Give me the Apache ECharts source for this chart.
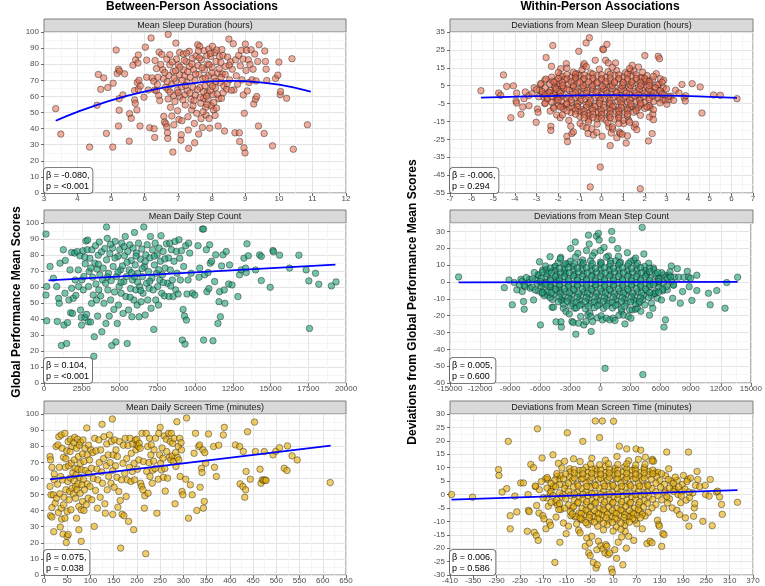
<!DOCTYPE html>
<html>
<head>
<meta charset="utf-8">
<script src="https://cdn.jsdelivr.net/npm/echarts@6/dist/echarts.min.js"></script>
<style>
html, body { margin: 0; padding: 0; background: #fff; }
#chart { width: 765px; height: 586px; }
</style>
</head>
<body>
<div id="chart"></div>
<script>
// ---- data ----

// between-person: mean sleep duration (hours) vs global performance
const sleepMeanPts = [
  [3.35,52.4],[3.5,36.6],[4.36,28.5],[4.62,73.6],[4.69,64.4],[4.78,71.5],[4.58,54.5],[4.86,37],[4.9,65.5],[5.06,68.2],[5.05,28.5],[5.15,88.8],[5.18,74.2],[5.22,76.9],[5.25,75.7],[5.22,41.6],[5.24,58.6],[5.24,51.4],[5.35,60.9],[5.4,74],[5.54,32.2],[5.55,49.3],[5.6,46.4],[5.65,79.4],[5.7,63.6],[5.7,57.8],[5.72,55.7],[5.73,82.7],[5.78,68.6],[5.81,85.7],[5.8,80.7],[5.83,70],[5.81,64.4],[5.77,51.6],[5.86,41.6],[5.87,66.5],[5.98,59.5],[6.02,90.6],[6.06,82.5],[6.06,71.9],[6.11,64],[6.15,40.5],[6.19,96.3],[6.22,71.5],[6.27,69.4],[6.28,39.9],[6.3,34.5],[6.3,64],[6.31,82.3],[6.35,77.3],[6.35,63.6],[6.38,67.4],[6.4,71.9],[6.42,60.5],[6.43,87.5],[6.45,57.4],[6.48,79.8],[6.51,86.1],[6.54,76.5],[6.56,70.9],[6.57,47.6],[6.59,44.1],[6.62,65.7],[6.63,43],[6.66,83.2],[6.66,41],[6.68,37.4],[6.69,33.9],[6.7,98.5],[6.7,64],[6.7,58.4],[6.72,73],[6.75,79.6],[6.75,85.9],[6.77,53.2],[6.8,67.6],[6.81,47.8],[6.84,25.4],[6.85,75.5],[6.86,60.5],[6.87,42.4],[6.9,56.8],[6.93,93.1],[6.93,69.4],[6.95,83.2],[6.98,64],[6.98,51.1],[7.0,79.6],[7.02,45.7],[7.04,87.3],[7.04,73.4],[7.05,59.9],[7.08,32.8],[7.09,36.2],[7.1,65.9],[7.11,44.9],[7.15,86.3],[7.16,76.5],[7.19,72.8],[7.2,61.1],[7.21,54.7],[7.24,81.5],[7.26,68.8],[7.27,63.6],[7.29,47.4],[7.3,39.1],[7.31,27.7],[7.33,88],[7.34,78.6],[7.36,71.9],[7.38,58.2],[7.4,51.6],[7.42,83.6],[7.44,65.7],[7.46,76.5],[7.48,43.2],[7.49,31.2],[7.5,69.8],[7.51,60.9],[7.53,85.2],[7.55,49.5],[7.58,92.1],[7.59,79.2],[7.61,36.6],[7.62,73.6],[7.64,91.1],[7.65,65.5],[7.67,55.7],[7.68,46.2],[7.69,82.7],[7.72,40.7],[7.73,70.9],[7.75,58.8],[7.77,88.4],[7.78,76.5],[7.8,66.5],[7.82,53.2],[7.83,48.4],[7.85,85.2],[7.87,62.4],[7.88,80.2],[7.89,57.8],[7.9,72.8],[7.91,89.4],[7.92,46.2],[7.94,40.3],[7.95,68.2],[7.97,84.8],[7.99,54],[8.01,78],[8.02,91.1],[8.04,61.1],[8.05,51.6],[8.07,71.9],[8.09,87.3],[8.1,48.2],[8.11,65.3],[8.13,81.7],[8.15,88.8],[8.17,74.4],[8.19,41.6],[8.21,58.6],[8.23,84.8],[8.25,68.6],[8.27,81.1],[8.29,58.8],[8.31,74],[8.33,85.4],[8.36,66.5],[8.38,38.5],[8.41,78.6],[8.44,64.4],[8.47,84.4],[8.51,95.6],[8.53,70.3],[8.56,81.5],[8.61,76.9],[8.64,92.7],[8.66,64],[8.69,37.4],[8.71,82.7],[8.73,72.8],[8.77,67.6],[8.8,85.4],[8.82,37.4],[8.83,32],[8.85,79],[8.88,88.6],[8.9,70.3],[8.93,83.2],[8.94,60.9],[8.96,28.1],[8.97,49.5],[8.99,24.9],[9.0,92.5],[9.02,76.1],[9.04,88.6],[9.06,63.4],[9.09,82.7],[9.11,68.6],[9.14,79.8],[9.17,89],[9.2,70.3],[9.23,76.9],[9.25,55.3],[9.28,86.3],[9.3,58.2],[9.32,69.6],[9.34,59.9],[9.37,81.7],[9.39,41.6],[9.41,92.1],[9.56,37],[9.58,88.2],[9.6,81.7],[9.62,76.9],[9.64,69.9],[9.81,29.3],[9.9,71.1],[9.97,73.2],[10.0,81.3],[10.04,61.1],[10.05,63],[10.23,58.8],[10.39,83.4],[10.43,27.2],[10.85,42.4],
  [7.05,78.2],[7.12,70.1],[7.18,82.4],[7.22,66.8],[7.28,75.3],[7.35,62.1],[7.41,80.2],[7.47,57.3],[7.52,73.9],[7.57,64.2],[7.63,83.9],[7.66,59.4],[7.71,77.8],[7.76,62.9],[7.81,71.4],[7.86,55.1],[7.92,79.6],[7.96,63.7],[8.0,74.6],[8.06,56.2],[8.12,69.3],[8.16,61.4],[8.22,77.2],[8.28,71.8],[8.34,62.2],[8.4,73.7],[8.46,67.9],[8.52,79.4],[8.58,63.8],[7.0,62.3],[6.92,75.9],[6.88,71.2],[6.82,81.4],[6.76,62.7],[6.67,69.1],[6.6,74.8],[7.14,57.8],[7.44,54.2],[7.74,50.5],[7.84,60.2],[8.02,66.3],[8.14,52.7],[7.25,86.9],[7.6,88.2],[7.96,86.7],[8.3,89.1]
];
const sleepMeanFitX = [3.35, 4, 5, 6, 7, 8, 8.6, 9, 10, 10.95];
const sleepMeanFitY = [44.9, 50.4, 57.6, 63.0, 67.0, 69.3, 69.7, 69.5, 67.3, 63.0];

// between-person: mean daily step count
const stepMeanPts = [
  [130,93.1],[180,60.3],[180,38.9],[130,55],[400,72.8],[620,65.5],[840,60.3],[880,38.5],[970,52.9],[1010,49.8],[1060,74.9],[1150,23.4],[1280,83.3],[1320,36.2],[1390,56.1],[1410,76.6],[1500,24.7],[1560,37.7],[1650,51.9],[1720,70.7],[1760,43.9],[1830,81.6],[1830,59.2],[1890,43.5],[1940,52.9],[2030,81.2],[2070,64.4],[2110,54.8],[2200,82.2],[2270,70.7],[2290,60.3],[2380,79.5],[2420,45.6],[2470,41],[2490,36.2],[2510,64.4],[2580,82.6],[2600,58.2],[2640,66.5],[2710,41],[2730,74.5],[2780,88.7],[2820,42.9],[2860,83.3],[2890,89.3],[2930,38.3],[2950,60.3],[2990,69.7],[3040,78],[3080,38.1],[3150,49.8],[3170,83.3],[3220,66.1],[3260,55],[3300,16.7],[3330,28.9],[3370,74.9],[3410,85.8],[3440,61.9],[3480,51.9],[3520,71.2],[3550,41.8],[3590,79.9],[3630,58.2],[3660,88.1],[3700,67.6],[3750,54.4],[3810,82],[3830,32],[3880,64.4],[3920,71.8],[3970,49.8],[4030,84.1],[4080,62.3],[4100,37.2],[4140,97.5],[4140,77],[4190,90.4],[4230,58.2],[4270,68.6],[4320,41.8],[4360,80.8],[4410,51.9],[4450,64],[4490,23.4],[4540,84.3],[4580,72.8],[4630,46],[4670,56.9],[4710,88.5],[4760,25.7],[4800,66.5],[4850,37.2],[4890,79.1],[4930,48.7],[4980,60.3],[5020,83.3],[5070,70.7],[5110,56.1],[5150,87.4],[5200,73.2],[5240,43.5],[5290,63.4],[5330,79.5],[5380,91.6],[5420,54],[5460,66.5],[5510,24.7],[5550,82.2],[5600,45.6],[5640,70.7],[5680,86.4],[5730,59],[5770,76.6],[5820,41.4],[5860,64.4],[5900,84.3],[5950,51.9],[5990,94.1],[6040,73.8],[6080,58.2],[6120,81.2],[6170,48.7],[6210,68.6],[6260,87.4],[6300,41.4],[6340,60.3],[6390,77.4],[6430,50.8],[6480,83.7],[6520,66.5],[6560,56.1],[6610,97.5],[6650,72.8],[6700,42.5],[6740,80.1],[6790,62.3],[6830,86.4],[6870,51.9],[6920,69.7],[6960,59.2],[7010,78.2],[7050,91.6],[7090,46.7],[7140,65.5],[7180,83.3],[7230,58.2],[7270,33.5],[7310,73.8],[7360,87.4],[7400,51.9],[7450,68.6],[7490,80.1],[7530,60.3],[7580,48.7],[7620,84.3],[7670,64.4],[7710,76.1],[7750,92.1],[7800,56.1],[7840,67.6],[7890,82.2],[7970,54.4],[8020,71.8],[8110,87],[8170,62.3],[8240,78.2],[8280,54],[8330,87.4],[8370,70.7],[8440,83.3],[8500,64.4],[8550,54],[8610,76.1],[8680,88.5],[8720,58.2],[8770,82.2],[8810,68.6],[8880,55.6],[8940,89.5],[8990,78],[9030,64.4],[9100,82.6],[9160,26.8],[9210,46],[9250,72.8],[9300,41.8],[9340,24.3],[9380,85.8],[9430,39.3],[9470,55.6],[9540,64.4],[9580,87.4],[9650,81.2],[9740,68.6],[9830,56.1],[9980,55],[10200,85.8],[10270,66.1],[10310,71.8],[10490,96.2],[10570,96.2],[10570,26.8],[10640,67.6],[10750,83.3],[10790,57.1],[10860,69],[10920,59],[10970,86.4],[11010,74.9],[11100,76.1],[11190,26.4],[11300,63.4],[11370,80.1],[11520,37.2],[11590,50.8],[11630,57.1],[11680,41.4],[11760,73.2],[11850,80.1],[11940,58.2],[11980,49.8],[12070,82.2],[12230,61.9],[12290,73.8],[12450,61.3],[12840,54],[12950,67.6],[13060,70.7],[13240,78],[13350,71.8],[13390,69],[13440,87],[13530,79.5],[14010,70.7],[14280,80.1],[14390,79.1],[14390,64],[14980,59.8],[15160,82.8],[15200,82],[15600,79.9],[16260,71.8],[16880,79.9],[17360,70.7],[17540,63.8],[17580,34.1],[17980,68.6],[18200,61.7],[19030,60.7],[19340,63.2],
  [3600,74.2],[4200,66.3],[4700,78.1],[5100,62.9],[5500,75.4],[5800,68.9],[6100,79.4],[6400,57.8],[6700,75.9],[7000,63.6],[7300,79.2],[7600,70.8],[8000,77.5],[8400,60.6],[4400,86.7],[5300,85.2],[6000,66.4],[6500,71.6],[3100,71.9],[2700,78.6],[7900,62.8],[5700,53.6],[6200,63.1],[4900,69.4]
];
const stepMeanFitX = [300, 19300];
const stepMeanFitY = [64.2, 74.0];

// between-person: mean daily screen time (minutes)
const screenMeanPts = [
  [13,73.6],[14,71.5],[17,66.9],[13,55],[15,49.8],[17,41.9],[14,36.8],[17,36],[20,49.8],[22,62.8],[22,59.1],[21,26.9],[24,44.6],[26,79.8],[27,47.7],[29,56.4],[30,80.8],[31,38.8],[32,85.9],[33,66.9],[34,50.4],[35,29.8],[36,61.2],[37,41.5],[37,87],[38,34.7],[39,78.7],[40,59.1],[41,25.4],[42,73.1],[42,43.6],[43,48.3],[45,88],[45,35.3],[46,66.9],[47,52.9],[47,72.3],[48,20.2],[49,77.1],[50,24],[50,39.5],[51,58.1],[52,82.9],[52,25.2],[53,67.8],[54,46.7],[55,51.9],[56,76.7],[57,60.3],[57,84.3],[58,40.5],[59,69.4],[60,53.9],[60,79.8],[62,63.6],[63,50.4],[64,82.2],[65,58.5],[65,71.5],[66,85.5],[67,66.3],[68,55],[68,47.7],[69,62.2],[70,78.7],[70,35.3],[71,52.9],[72,84.3],[73,65.7],[73,56.6],[74,73.6],[75,42.6],[75,28.1],[76,80.6],[77,60.7],[78,50.8],[78,69.4],[79,82.6],[80,20.9],[80,40.5],[81,65.3],[82,56],[83,75.2],[83,45.7],[84,83.9],[85,59.5],[86,70.5],[86,40.1],[87,52.9],[88,78.7],[89,64.9],[91,43.6],[92,91.3],[93,56.6],[93,74.6],[95,47.7],[96,80.6],[96,63.2],[98,71.5],[99,55],[101,77.7],[102,66.3],[103,46.7],[105,76],[106,59.9],[108,30.2],[109,84.9],[111,52.5],[112,77.1],[114,65.7],[115,41.5],[116,59.1],[118,83.9],[119,69.8],[121,48.3],[122,77.7],[124,64],[125,93.6],[126,57],[128,72.3],[129,85.9],[131,44.2],[132,38.4],[134,67.8],[135,81.4],[136,52.9],[138,74.6],[139,61.2],[141,87],[142,69.8],[144,57],[145,82.9],[147,96.9],[148,37.6],[148,64.9],[149,74.6],[151,54.5],[152,83.9],[154,67.8],[155,77.7],[157,60.7],[158,73.6],[159,42.1],[161,51.9],[162,82.9],[164,46.3],[165,16.7],[167,59.1],[168,37.8],[170,69.4],[171,80.6],[172,36.8],[174,63.2],[175,84.9],[177,48.8],[178,72.3],[179,59.1],[181,80.4],[182,33.3],[184,66.9],[185,84.9],[187,58.1],[188,75.6],[190,64.3],[191,81.4],[193,28.1],[194,69.4],[195,59.1],[197,83.9],[198,77.7],[200,80.8],[200,84.3],[201,65.7],[203,79.8],[204,71.5],[205,81.8],[207,78.7],[208,57],[210,55],[211,88],[213,52.9],[214,70.5],[216,41.5],[217,49.2],[219,13.2],[220,88],[221,64.3],[223,79.8],[224,50.8],[226,69.8],[227,84.9],[228,61.2],[230,74.6],[231,80.8],[233,57],[234,65.1],[236,70.7],[237,77.7],[239,66.1],[240,84.9],[243,38.4],[246,59.5],[247,88],[249,74.6],[250,91.7],[251,69.4],[253,65.3],[254,78.9],[256,72.5],[257,60.7],[259,86.4],[260,66.1],[261,52.1],[263,84.3],[264,76.7],[266,60.1],[268,88],[270,73.1],[272,82.9],[273,71.5],[274,88],[276,74],[277,81.8],[279,70.5],[280,84.9],[282,44.2],[283,76],[284,67.4],[286,95.2],[287,73.1],[289,79.8],[290,71.5],[292,84.9],[293,61.2],[295,82.2],[296,77.7],[297,51.9],[299,49.8],[305,59.5],[307,97.5],[311,35.3],[315,56],[319,49.8],[323,75.6],[326,88],[329,40.1],[333,79.8],[335,80.8],[336,54.5],[339,66.3],[340,63.6],[342,77.7],[343,41.5],[345,45.7],[346,76],[348,69.4],[354,87.6],[365,79.8],[367,66.9],[371,61.2],[376,80.6],[386,87],[388,91.7],[412,80.8],[421,79.8],[422,56.6],[428,55],[429,76.7],[432,48.3],[434,52.9],[435,64.3],[438,89],[444,59.5],[453,95],[455,76.7],[465,65.7],[467,57],[470,59.1],[473,58.7],[474,76.7],[476,59.1],[478,58.7],[493,74.6],[499,76.9],[507,79.1],[517,66.3],[523,64.9],[524,80.2],[534,74],[545,71.5],[616,57.4]
];
const screenMeanFitX = [13, 617];
const screenMeanFitY = [59.4, 80.3];

// within-person: deviations from mean sleep duration
const sleepDevOuter = [
  [-5.57,2.2],[-4.75,0.9],[-4.66,-0.4],[-4.53,11],[-4.38,4.6],[-4.19,-12.9],[-4.07,4.9],[-3.92,0.9],[-3.95,-3.6],[-3.92,-4.7],[-3.72,-11],[-3.64,-6.9],[-3.58,-2.3],[-3.52,1.5],[-3.36,-0.6],[-3.35,-6.2],[-3.21,0.5],[-3.11,3.9],[-3.02,-15.5],[-2.96,-8],[-2.93,-9.9],[-2.87,2.4],[-2.81,5.7],[-2.74,0.5],[-2.68,-1.3],[-2.62,-5],[-2.62,8],[-2.57,8.7],[-2.56,20.7],[-2.5,-2.5],[-2.44,1.5],[-2.37,-9.2],[-2.34,-17.7],[-2.34,-20],[-2.31,15.8],[-2.28,7.6],[-2.25,27.4],[-2.22,-6.9],[-2.19,0.5],[-2.14,3.9],[-2.1,-3.2],[-2.07,-11.4],[-2.02,5],[-1.99,-1.3],[-1.94,10.6],[-1.91,-12.9],[-1.88,14.5],[-1.83,-6.5],[-1.76,3.3],[-1.63,17.3],[-1.6,-23.3],[-1.57,-26.3],[-1.51,-14.4],[-1.42,-17.7],[-1.37,-21.8],[-1.3,-20.9],[-1.2,10.2],[-1.14,11.7],[-1.05,24.2],[-0.99,-16.2],[-0.86,-17.7],[-0.83,16.2],[-0.8,17.3],[-0.71,28.9],[-0.68,-18.7],[-0.62,-21.8],[-0.56,31.8],[-0.52,-51.6],[-0.45,-19.1],[-0.37,-22.6],[-0.29,19.2],[-0.22,-21.1],[-0.06,-40.5],[0.03,-23.3],[0.06,25.5],[0.09,25.1],[0.19,19.2],[0.25,28.1],[0.31,17.7],[0.34,-18.1],[0.4,-28.5],[0.45,-21.5],[0.52,-19.2],[0.65,17.7],[0.71,-24.1],[0.83,-20.9],[0.86,-21.8],[0.96,-22.2],[1.02,-16.2],[1.14,-27.1],[1.2,-23],[1.26,-14.4],[1.33,13.2],[1.42,16.4],[1.51,-18.1],[1.57,-16.6],[1.63,-19.6],[1.71,15.4],[1.79,-52.6],[1.88,9.5],[2.0,21.8],[2.1,8],[2.17,-25.9],[2.22,-12.5],[2.25,-7.3],[2.34,-21.8],[2.37,-11],[2.4,-14],[2.44,3.9],[2.53,11.7],[2.62,21.4],[2.68,20.1],[2.71,8.9],[2.65,5.7],[2.74,1.6],[2.79,-2.8],[2.87,8],[2.91,-0.2],[2.94,-3.2],[3.02,-5.4],[3.11,-2.8],[3.21,-0.9],[3.33,-3.2],[3.42,2.4],[3.58,0.9],[3.72,5.7],[3.82,-1.7],[3.87,-3.6],[3.89,-0.6],[4.19,6.1],[4.56,4.3],[4.64,-10.3],[5.18,-0.2],[5.49,-0.4],[6.26,-2.3]
];
const sleepDevCore = [
  [-1.3,12.5],[-0.9,13.8],[-0.5,12.1],[-0.1,14.2],[0.3,12.8],[0.7,13.5],[1.1,12.2],[1.5,13.0],
  [-1.8,10.3],[-1.4,9.6],[-1.0,10.8],[-0.6,9.9],[-0.2,10.6],[0.2,9.7],[0.6,10.9],[1.0,9.8],[1.4,10.4],[1.8,9.5],[2.1,10.7],
  [-2.1,7.6],[-1.7,8.4],[-1.25,7.8],[-0.85,8.5],[-0.4,7.7],[0.0,8.3],[0.4,7.5],[0.8,8.6],[1.2,7.9],[1.6,8.2],[2.0,7.4],[2.35,8.1],
  [-2.4,5.8],[-1.95,6.3],[-1.55,5.6],[-1.1,6.4],[-0.7,5.7],[-0.25,6.2],[0.2,5.9],[0.6,6.5],[1.0,5.6],[1.45,6.1],[1.85,5.7],[2.25,6.4],[2.6,5.5],
  [-2.6,3.8],[-2.15,4.3],[-1.75,3.6],[-1.3,4.4],[-0.9,3.7],[-0.45,4.2],[0.0,3.9],[0.4,4.5],[0.85,3.6],[1.25,4.1],[1.7,3.8],[2.1,4.4],[2.5,3.7],[2.85,4.0],
  [-2.75,1.8],[-2.35,2.3],[-1.95,1.6],[-1.5,2.4],[-1.1,1.7],[-0.65,2.2],[-0.2,1.9],[0.2,2.5],[0.65,1.6],[1.05,2.1],[1.5,1.8],[1.9,2.4],[2.3,1.7],[2.7,2.2],
  [-2.6,-0.2],[-2.2,0.4],[-1.8,-0.4],[-1.35,0.3],[-0.9,-0.3],[-0.45,0.5],[0.0,-0.1],[0.45,0.3],[0.85,-0.5],[1.3,0.2],[1.7,-0.3],[2.1,0.4],[2.5,-0.2],[2.8,0.3],
  [-2.5,-2.3],[-2.05,-1.7],[-1.6,-2.4],[-1.2,-1.8],[-0.75,-2.5],[-0.3,-1.9],[0.15,-2.2],[0.55,-1.6],[1.0,-2.4],[1.4,-1.8],[1.8,-2.3],[2.2,-1.7],[2.6,-2.1],
  [-2.3,-4.2],[-1.85,-3.7],[-1.4,-4.4],[-1.0,-3.8],[-0.55,-4.3],[-0.1,-3.6],[0.35,-4.5],[0.75,-3.9],[1.2,-4.1],[1.6,-3.7],[2.0,-4.4],[2.4,-3.9],
  [-2.0,-6.1],[-1.6,-5.6],[-1.15,-6.4],[-0.7,-5.8],[-0.3,-6.3],[0.1,-5.7],[0.55,-6.2],[0.95,-5.8],[1.4,-6.5],[1.8,-5.9],[2.2,-6.2],
  [-1.75,-8.2],[-1.3,-7.6],[-0.9,-8.4],[-0.45,-7.8],[-0.05,-8.3],[0.4,-7.7],[0.8,-8.5],[1.2,-7.9],[1.6,-8.1],[2.0,-7.7],
  [-1.4,-10.1],[-1.0,-9.6],[-0.6,-10.4],[-0.15,-9.8],[0.25,-10.3],[0.7,-9.7],[1.1,-10.2],[1.5,-9.9],
  [-1.0,-12.2],[-0.55,-11.7],[-0.1,-12.4],[0.35,-11.8],[0.8,-12.3],[1.2,-11.9],
  [-0.6,-14.1],[-0.2,-13.6],[0.2,-14.3],[0.6,-13.8],[1.0,-14.4],
  [-1.6,3.1],[-1.2,2.9],[-0.8,3.2],[-0.4,2.8],[0.1,3.0],[0.5,3.3],[0.9,2.8],[1.3,3.1],
  [-1.5,-1.1],[-1.05,-0.9],[-0.6,-1.2],[-0.15,-0.8],[0.3,-1.1],[0.75,-0.9],[1.15,-1.2],[1.55,-0.8],
  [-1.4,-3.0],[-0.95,-2.8],[-0.5,-3.2],[-0.05,-2.9],[0.4,-3.1],[0.85,-2.7],[1.3,-3.0],
  [-1.3,5.1],[-0.85,4.9],[-0.4,5.2],[0.05,4.8],[0.5,5.1],[0.95,4.9],[1.35,5.2],
  [-1.2,1.0],[-0.7,0.9],[-0.25,1.2],[0.25,0.8],[0.7,1.1],[1.15,0.9],
  [-1.1,-5.0],[-0.6,-5.2],[-0.1,-4.9],[0.4,-5.1],[0.9,-4.8],
  [-0.2,-16.5],[0.3,-15.8],[0.8,-16.2],[1.3,-15.5],[0.5,-18.0],[-0.6,-15.2],
  [-1.6,14.8],[-0.7,15.6],[0.5,15.2],[1.3,14.6],[-2.0,12.3],[1.9,12.5],[2.4,10.2],[-2.3,9.8],[2.8,6.9],[-2.8,6.2],[3.0,3.2],[-3.0,2.8],[-2.9,-1.2],[3.1,-1.0],[-2.6,-4.8],[2.7,-4.6],[-2.2,-7.6],[2.4,-8.4],[-1.8,-11.3],[1.8,-11.6]
];
const sleepDevFill = [
  [-1.6,11.2],[-1.2,11.4],[-0.8,11.0],[-0.4,11.5],[0.0,11.1],[0.4,11.3],[0.8,11.0],[1.2,11.4],[1.6,11.1],
  [-2.0,9.0],[-1.6,8.8],[-1.2,9.2],[-0.8,8.9],[-0.4,9.1],[0.0,8.8],[0.4,9.2],[0.8,9.0],[1.2,8.8],[1.6,9.1],[2.0,8.9],
  [-2.2,7.0],[-1.8,6.8],[-1.4,7.2],[-1.0,6.9],[-0.6,7.1],[-0.2,6.8],[0.2,7.2],[0.6,7.0],[1.0,6.8],[1.4,7.1],[1.8,6.9],[2.2,7.2],
  [-1.9,-7.0],[-1.5,-7.2],[-1.1,-6.9],[-0.7,-7.1],[-0.3,-6.8],[0.1,-7.2],[0.5,-6.9],[0.9,-7.1],[1.3,-6.8],[1.7,-7.2],[2.1,-6.9],
  [-1.6,-9.1],[-1.2,-8.9],[-0.8,-9.2],[-0.4,-8.8],[0.0,-9.1],[0.4,-8.9],[0.8,-9.2],[1.2,-8.8],[1.6,-9.0],
  [-1.2,-11.0],[-0.8,-11.2],[-0.4,-10.9],[0.0,-11.1],[0.4,-10.8],[0.8,-11.1],[1.2,-10.9],
  [-0.8,-13.0],[-0.4,-12.8],[0.0,-13.2],[0.4,-12.9],[0.8,-13.1],
  [-2.4,1.0],[-1.9,0.8],[1.6,1.0],[2.0,0.9],[2.4,1.1],[-2.3,-1.0],[-1.9,-1.2],[1.95,-1.1],[2.35,-0.9],[-2.1,3.0],[1.75,3.1],[2.2,2.9],[-2.0,-3.0],[1.75,-3.0],[2.2,-2.8],[-1.8,5.0],[1.8,4.9],[2.2,5.1],[-1.6,-5.0],[1.35,-5.1],[1.8,-4.9]
];
const sleepDevFitX = [-5.57, -3, 0, 3, 6.26];
const sleepDevFitY = [-1.7, -0.9, -0.3, -0.6, -1.8];

// within-person: deviations from mean step count
const stepDevOuter = [
  [-14140,3],[-9580,-3.4],[-9120,1.2],[-8790,-13.6],[-8590,-0.4],[-8330,-4.7],[-8060,-1.8],[-7930,1.6],[-7800,-5.7],[-7670,-11.6],[-7600,-16.2],[-7500,-2.8],[-7070,1.6],[-7000,-3.7],[-6670,-10.7],[-6410,1.2],[-6210,4.0],[-6080,12],[-5980,-25.5],[-5850,-0.8],[-5750,7.1],[-5620,-4.7],[-5480,9.5],[-5420,2.8],[-5290,-7.9],[-5150,6.1],[-5020,15],[-4920,-2.8],[-4820,-15],[-4690,-15],[-4590,8.7],[-4430,-23.7],[-4360,1.2],[-4230,11.4],[-4100,-4.7],[-3960,14.6],[-3930,-23.7],[-3900,-26.8],[-3830,-10.7],[-3700,-15.6],[-3600,5.5],[-3440,-17.6],[-3270,10.7],[-3110,-19],[-2970,19.9],[-2840,-23.5],[-2710,-24.1],[-2580,-15.6],[-2510,23.7],[-2450,-31],[-2250,17],[-2180,-24.5],[-1980,-20.5],[-1780,13],[-1650,-25.5],[-1450,-23.5],[-1390,18.6],[-1260,-19.5],[-1190,27.8],[-1120,22.5],[-1060,-18.5],[-960,-20.5],[-930,-29.4],[-790,-23.5],[-590,17.4],[-400,27.2],[-300,-21.3],[-200,28.8],[-130,24.9],[0,18.6],[70,-20.1],[200,-22.5],[360,20.5],[460,-51.3],[590,-21.5],[790,15.4],[930,-22.5],[1120,30],[1160,24.9],[1260,-21.5],[1450,-22.9],[1520,12.6],[1720,19.9],[1850,-19.7],[2110,-17.6],[2310,-19.7],[2440,-24.9],[2680,17.4],[2780,-20.5],[2910,-16.6],[3040,-21.5],[3170,-16.6],[3340,13],[3500,-16.2],[3670,-15.6],[3830,-12.6],[4030,-17.4],[4160,32.4],[4230,-55],[4330,16.6],[4430,-13.6],[4630,5.1],[4820,11.1],[4890,-19.7],[5090,-12.6],[5220,-15.6],[5290,8.3],[5420,-6.7],[5550,3.6],[5680,-9.7],[5810,-0.8],[5950,2.8],[6080,-10.7],[6210,-5.3],[6340,-26.8],[6480,-22.5],[6540,2.8],[6670,-4.7],[6810,4.1],[6940,6.1],[7070,9.5],[7200,-9.7],[7270,-1.8],[7400,2.8],[7670,7.9],[7800,2.8],[7960,-12.6],[8190,-5.7],[8330,2.8],[8660,6.3],[8790,2.8],[8850,-2.8],[8990,2.2],[9120,-11],[9610,4],[9610,-5.1],[10770,-6.7],[10940,-13.6],[11600,-5.1],[12420,-15.6],[12590,-0.4],[13680,2.8]
];
const stepDevCore = [
  [-3000,12.3],[-2000,11.6],[-1000,12.6],[0,11.8],[1000,12.4],[2000,11.7],[3000,12.1],
  [-2500,14.8],[-800,15.5],[600,14.6],[1800,15.2],[3500,14.2],[-4000,13.8],
  [-4500,9.3],[-3600,9.9],[-2700,9.2],[-1800,9.8],[-900,9.4],[0,10.0],[900,9.3],[1800,9.9],[2700,9.4],[3600,9.7],[4400,9.2],
  [-5400,7.2],[-4500,6.6],[-3600,7.4],[-2700,6.7],[-1800,7.3],[-900,6.6],[0,7.2],[900,6.8],[1800,7.4],[2700,6.6],[3600,7.1],[4500,6.8],[5300,7.3],
  [-6200,4.3],[-5300,4.8],[-4400,4.2],[-3500,4.9],[-2600,4.3],[-1700,4.7],[-800,4.1],[100,4.8],[1000,4.3],[1900,4.9],[2800,4.2],[3700,4.7],[4600,4.4],[5500,4.8],[6300,4.2],
  [-6800,1.8],[-5900,2.3],[-5000,1.7],[-4100,2.4],[-3200,1.9],[-2300,2.3],[-1400,1.6],[-500,2.2],[400,1.8],[1300,2.4],[2200,1.7],[3100,2.2],[4000,1.9],[4900,2.5],[5800,1.8],[6700,2.2],
  [-7200,-0.4],[-6300,-0.9],[-5400,-0.3],[-4500,-0.8],[-3600,-0.2],[-2700,-0.9],[-1800,-0.4],[-900,-0.7],[0,-0.3],[900,-0.8],[1800,-0.2],[2700,-0.9],[3600,-0.4],[4500,-0.7],[5400,-0.3],[6300,-0.8],
  [-6800,-3.1],[-5900,-2.6],[-5000,-3.3],[-4100,-2.7],[-3200,-3.2],[-2300,-2.6],[-1400,-3.4],[-500,-2.8],[400,-3.2],[1300,-2.7],[2200,-3.3],[3100,-2.6],[4000,-3.1],[4900,-2.8],[5800,-3.2],[6600,-2.7],
  [-6200,-5.4],[-5300,-5.9],[-4400,-5.3],[-3500,-5.8],[-2600,-5.2],[-1700,-5.9],[-800,-5.4],[100,-5.7],[1000,-5.3],[1900,-5.8],[2800,-5.4],[3700,-5.9],[4600,-5.2],[5500,-5.7],
  [-5600,-8.1],[-4700,-7.6],[-3800,-8.3],[-2900,-7.7],[-2000,-8.2],[-1100,-7.6],[-200,-8.4],[700,-7.8],[1600,-8.2],[2500,-7.7],[3400,-8.3],[4300,-7.9],[5100,-8.1],
  [-4800,-10.4],[-3900,-10.9],[-3000,-10.3],[-2100,-10.8],[-1200,-10.2],[-300,-10.9],[600,-10.4],[1500,-10.7],[2400,-10.3],[3300,-10.8],[4200,-10.5],
  [-3700,-13.1],[-2800,-12.6],[-1900,-13.3],[-1000,-12.7],[-100,-13.2],[800,-12.8],[1700,-13.4],[2600,-12.7],[3500,-13.0],
  [-2400,-15.4],[-1500,-15.9],[-600,-15.3],[300,-15.8],[1200,-15.5],[2100,-16.0],
  [-4500,3.3],[-3600,3.1],[-2700,3.5],[-1800,3.2],[-900,3.4],[0,3.1],[900,3.5],[1800,3.2],[2700,3.4],[3600,3.1],[4500,3.3],
  [-5000,0.8],[-4100,1.0],[-3200,0.7],[-2300,0.9],[-1400,1.1],[-500,0.7],[400,1.0],[1300,0.8],[2200,1.1],[3100,0.7],[4000,1.0],[4900,0.8],
  [-5000,-1.8],[-4100,-1.6],[-3200,-2.0],[-2300,-1.7],[-1400,-1.9],[-500,-1.6],[400,-2.0],[1300,-1.7],[2200,-1.9],[3100,-1.6],[4000,-2.0],[4900,-1.7],
  [-4500,-4.3],[-3600,-4.1],[-2700,-4.5],[-1800,-4.2],[-900,-4.4],[0,-4.1],[900,-4.5],[1800,-4.2],[2700,-4.4],[3600,-4.1],[4500,-4.3],
  [-4000,5.8],[-3100,5.6],[-2200,6.0],[-1300,5.7],[-400,5.9],[500,5.6],[1400,6.0],[2300,5.7],[3200,5.9],[4100,5.6],
  [-4000,-6.8],[-3100,-6.6],[-2200,-7.0],[-1300,-6.7],[-400,-6.9],[500,-6.6],[1400,-7.0],[2300,-6.7],[3200,-6.9],[4100,-6.6]
];
const stepDevFill = [
  [-3500,11.0],[-2600,10.8],[-1700,11.2],[-800,10.9],[100,11.1],[1000,10.8],[1900,11.2],[2800,10.9],[3700,11.0],
  [-5000,8.3],[-4100,8.1],[-3200,8.5],[-2300,8.2],[-1400,8.4],[-500,8.1],[400,8.5],[1300,8.2],[2200,8.4],[3100,8.1],[4000,8.5],[4900,8.2],
  [-5000,-9.3],[-4100,-9.1],[-3200,-9.5],[-2300,-9.2],[-1400,-9.4],[-500,-9.1],[400,-9.5],[1300,-9.2],[2200,-9.4],[3100,-9.1],[4000,-9.5],[4800,-9.2],
  [-4200,-11.8],[-3300,-11.6],[-2400,-12.0],[-1500,-11.7],[-600,-11.9],[300,-11.6],[1200,-12.0],[2100,-11.7],[3000,-11.9],[3900,-11.6],
  [-3000,-14.2],[-2100,-14.0],[-1200,-14.4],[-300,-14.1],[600,-14.3],[1500,-14.0],[2400,-14.4],
  [-7800,0.5],[-7600,-2.0],[-7400,2.6],[7100,0.3],[7300,-1.9],[7000,3.0],[-6000,0.2],[5800,0.4],[-5500,-1.2],[5300,-1.5],[-6600,5.6],[6100,5.5],[-6500,-4.8],[6200,-4.4],[-5800,-6.8],[5400,-6.9],
  [-5800,5.9],[-4900,5.5],[4900,6.1],[5700,5.6],[-5800,-6.2],[-4900,-6.5],[4900,-6.3],[5800,-6.0]
];
const stepDevFitX = [-14140, 13680];
const stepDevFitY = [-0.3, 0.1];

// within-person: deviations from mean screen time
const screenDevOuter = [
  [-406,0],[-352,-1],[-285,9.3],[-284,7.1],[-260,19.8],[-264,2.2],[-276,0.9],[-255,-7.9],[-255,-12.8],[-243,-0.6],[-238,-6.5],[-228,4.3],[-221,4.3],[-211,-13.7],[-209,0],[-208,-5.9],[-206,-6.4],[-202,11.2],[-195,10],[-193,-14.1],[-190,2.9],[-188,-15.3],[-187,-4.1],[-185,24.5],[-183,-17.1],[-181,-6.9],[-173,13.6],[-171,-7.9],[-168,-9.1],[-164,5.8],[-163,-12.8],[-161,-1.3],[-158,5.6],[-157,-4.4],[-154,-10.3],[-152,0.6],[-151,-11.5],[-148,2.5],[-145,14.8],[-144,3.1],[-140,-25.3],[-139,-2.9],[-137,-8.4],[-135,6.8],[-133,-3.9],[-131,11.6],[-128,5.6],[-127,-17.8],[-125,-5.6],[-122,9.9],[-120,0],[-118,-10.6],[-115,12.4],[-113,3.4],[-111,-14.6],[-108,23],[-105,-11.8],[-102,9.6],[-99,-7.9],[-96,-5],[-92,13.3],[-88,-8.4],[-84,-11],[-79,-13.3],[-75,-14.3],[-72,-9.3],[-68,19.8],[-62,-19.3],[-58,-16.2],[-53,-21.8],[-51,-18.1],[-49,-22.8],[-45,-15.6],[-41,-25.3],[-36,27.4],[-34,-27.4],[-32,-20.6],[-31,-26.2],[-28,-17.4],[-25,21.2],[-22,-19.1],[-18,27.4],[-16,-20.3],[-11,-21.8],[-9,-18.7],[-6,-19.3],[-3,-22.4],[1,-21.8],[6,-27.8],[8,-29],[11,27.3],[14,-20.6],[19,-23.8],[23,-17.8],[26,18],[32,-15.8],[35,-26.2],[41,-13.7],[44,-20],[45,17],[50,-15.6],[56,-7.9],[63,-17.1],[69,17],[71,-10.9],[81,16.5],[85,-12.8],[93,13.9],[97,-18.3],[105,-17.4],[110,-18],[111,13.1],[114,12.4],[118,8.1],[124,-9.6],[127,-11.2],[129,-11.8],[135,-19.3],[138,-14.5],[141,-15],[144,1.2],[148,15.8],[153,9.6],[155,-1.6],[159,5],[162,-5],[166,2.5],[169,1.9],[174,-5.9],[177,0],[181,-7.5],[184,-3.1],[187,1.2],[191,7.1],[196,-8.7],[198,-2.1],[202,5.6],[204,15.8],[205,-11.8],[207,-1.1],[209,6.1],[215,0.6],[217,-8.1],[219,-5],[220,-3.4],[222,3.4],[226,8.6],[228,5.6],[233,2.9],[241,-10],[247,3.4],[248,0],[257,-0.6],[260,5.6],[265,-11.6],[276,0.9],[279,1.2],[284,-0.9],[289,-3.7],[291,-7.4],[330,-2.9]
];
const screenDevCore = [
  [-60,10.2],[-35,9.6],[-10,10.4],[15,9.8],[40,10.3],[65,9.7],[90,10.1],
  [-45,13.5],[-10,12.8],[20,14.2],[50,12.6],[75,13.1],[-75,12.3],[110,12.5],
  [-100,8.4],[-78,8.9],[-55,8.3],[-32,8.8],[-10,8.2],[12,8.7],[35,8.4],[58,8.9],[80,8.2],[102,8.6],[125,8.3],
  [-125,7.1],[-102,6.6],[-80,7.2],[-58,6.7],[-35,7.3],[-12,6.8],[10,7.2],[32,6.6],[55,7.1],[78,6.8],[100,7.3],[122,6.7],[145,7.0],
  [-140,5.4],[-118,5.9],[-95,5.3],[-72,5.8],[-50,5.2],[-28,5.7],[-5,5.4],[18,5.9],[40,5.3],[62,5.8],[85,5.4],[108,5.7],[130,5.2],[152,5.6],[175,5.3],
  [-150,4.1],[-128,3.7],[-105,4.2],[-82,3.8],[-60,4.3],[-38,3.6],[-15,4.1],[8,3.8],[30,4.3],[52,3.7],[75,4.0],[98,3.6],[120,4.2],[142,3.8],[165,4.1],[188,3.7],
  [-160,2.4],[-138,2.9],[-115,2.3],[-92,2.8],[-70,2.2],[-48,2.7],[-25,2.4],[-2,2.9],[20,2.3],[42,2.8],[65,2.4],[88,2.9],[110,2.2],[132,2.7],[155,2.4],[178,2.8],
  [-150,1.1],[-128,0.6],[-105,1.2],[-82,0.7],[-60,1.0],[-38,0.5],[-15,1.2],[8,0.8],[30,1.1],[52,0.6],[75,1.2],[98,0.7],[120,1.0],[142,0.6],[165,1.1],
  [-145,-0.4],[-122,-0.9],[-100,-0.3],[-78,-0.8],[-55,-0.4],[-32,-0.9],[-10,-0.3],[12,-0.8],[35,-0.5],[58,-0.9],[80,-0.3],[102,-0.7],[125,-0.4],[148,-0.8],
  [-135,-2.1],[-112,-1.6],[-90,-2.2],[-68,-1.7],[-45,-2.3],[-22,-1.8],[0,-2.2],[22,-1.6],[45,-2.1],[68,-1.7],[90,-2.3],[112,-1.8],[135,-2.0],
  [-128,-3.4],[-105,-3.9],[-82,-3.3],[-60,-3.8],[-38,-3.4],[-15,-3.9],[8,-3.3],[30,-3.8],[52,-3.5],[75,-3.9],[98,-3.3],[120,-3.7],
  [-115,-5.1],[-92,-4.6],[-70,-5.2],[-48,-4.7],[-25,-5.3],[-2,-4.8],[20,-5.2],[42,-4.6],[65,-5.1],[88,-4.7],[110,-5.0],
  [-100,-6.4],[-78,-6.9],[-55,-6.3],[-32,-6.8],[-10,-6.4],[12,-6.9],[35,-6.3],[58,-6.8],[80,-6.4],[100,-6.7],
  [-85,-8.1],[-62,-7.6],[-40,-8.2],[-18,-7.7],[5,-8.3],[28,-7.8],[50,-8.2],[72,-7.7],[92,-8.0],
  [-70,-9.4],[-48,-9.9],[-25,-9.3],[-2,-9.8],[20,-9.4],[42,-9.9],[65,-9.5],
  [-55,-11.2],[-30,-11.8],[-5,-11.3],[18,-12.1],[40,-11.5],[-15,-13.2],[10,-13.6],[30,-13.0],
  [-90,6.2],[-68,6.0],[-45,6.3],[-22,6.1],[0,6.4],[22,6.0],[45,6.3],[68,6.1],[90,6.2],
  [-80,3.2],[-58,3.0],[-35,3.3],[-12,3.1],[10,3.3],[32,3.0],[55,3.2],[78,3.1],[100,3.3],
  [-90,0.2],[-68,0.1],[-45,0.3],[-22,0.0],[0,0.2],[22,0.1],[45,0.3],[68,0.0],[90,0.2],
  [-80,-2.9],[-58,-2.7],[-35,-3.0],[-12,-2.8],[10,-2.9],[32,-2.7],[55,-3.0],[78,-2.8],
  [-60,-5.8],[-38,-6.0],[-15,-5.7],[8,-5.9],[30,-5.8],[52,-6.0],[75,-5.7]
];
const screenDevFill = [
  [-90,9.3],[-68,9.1],[-45,9.5],[-22,9.2],[0,9.4],[22,9.1],[45,9.5],[68,9.2],[90,9.4],[112,9.1],
  [-48,11.3],[-25,11.1],[-2,11.5],[22,11.2],[45,11.4],[68,11.0],[92,11.3],
  [-135,7.8],[-112,7.6],[-90,8.0],[-68,7.7],[-45,7.9],[-22,7.6],[0,8.0],[22,7.7],[45,7.9],[68,7.6],[90,8.0],[112,7.7],[135,7.8],
  [-95,-7.3],[-72,-7.1],[-50,-7.5],[-28,-7.2],[-5,-7.4],[18,-7.1],[40,-7.5],[62,-7.2],[85,-7.4],
  [-75,-8.8],[-52,-8.6],[-30,-9.0],[-8,-8.7],[15,-8.9],[38,-8.6],[60,-9.0],[80,-8.7],
  [-60,-10.5],[-38,-10.3],[-15,-10.7],[8,-10.4],[30,-10.6],[52,-10.3],
  [-175,4.8],[-180,1.8],[-170,-1.2],[195,2.0],[200,4.8],[185,-0.5],[170,6.5],[-160,6.3],[-150,-3.0],[150,-3.2],[140,-5.3],[-130,-5.6],[205,0.9],[-190,3.2]
];
const screenDevFitX = [-406, 330];
const screenDevFitY = [-1.9, 1.6];

// facet titles and stats
const stripTitles = [
  'Mean Sleep Duration (hours)', 'Deviations from Mean Sleep Duration (hours)',
  'Mean Daily Step Count', 'Deviations from Mean Step Count',
  'Mean Daily Screen Time (minutes)', 'Deviations from Mean Screen Time (minutes)'
];
const betaLabels = ['β = -0.080,', 'β = -0.006,', 'β = 0.104,', 'β = 0.005,', 'β = 0.075,', 'β = 0.006,'];
const pLabels = ['p = <0.001', 'p = 0.294', 'p = <0.001', 'p = 0.600', 'p = 0.038', 'p = 0.586'];

// ---- layout ----
const FONT = 'Liberation Sans, Arial, sans-serif';
const salmon = 'rgba(229,105,75,0.55)';
const green = 'rgba(27,158,119,0.6)';
const gold = 'rgba(230,171,2,0.6)';

const panels = [
  { box: [44, 32, 302, 161], x: [3, 12, 1], y: [0, 100, 10], pts: sleepMeanPts, fitX: sleepMeanFitX, fitY: sleepMeanFitY, smooth: true, fill: salmon },
  { box: [450, 32, 303, 161], x: [-7, 7, 1], y: [-55, 35, 10], pts: sleepDevOuter.concat(sleepDevCore, sleepDevFill), fitX: sleepDevFitX, fitY: sleepDevFitY, smooth: true, fill: salmon },
  { box: [44, 223, 302, 160], x: [0, 20000, 2500], y: [0, 100, 10], pts: stepMeanPts, fitX: stepMeanFitX, fitY: stepMeanFitY, smooth: false, fill: green },
  { box: [450, 223, 303, 160], x: [-15000, 15000, 3000], y: [-60, 35, 10], pts: stepDevOuter.concat(stepDevCore, stepDevFill), fitX: stepDevFitX, fitY: stepDevFitY, smooth: false, fill: green, hideMax: true },
  { box: [44, 414, 302, 161], x: [0, 650, 50], y: [0, 100, 10], pts: screenMeanPts, fitX: screenMeanFitX, fitY: screenMeanFitY, smooth: false, fill: gold },
  { box: [450, 414, 303, 161], x: [-410, 370, 60], y: [-30, 30, 5], pts: screenDevOuter.concat(screenDevCore, screenDevFill), fitX: screenDevFitX, fitY: screenDevFitY, smooth: false, fill: gold }
];

const makeAxis = (i, r, isX, hideMax) => ({
  type: 'value', gridIndex: i, min: r[0], max: r[1], interval: r[2],
  axisLine: { show: false, onZero: false },
  axisTick: { show: true, length: 3, lineStyle: { color: '#444', width: 0.8 } },
  axisLabel: {
    color: '#4d4d4d', fontSize: 8, fontFamily: FONT, margin: isX ? 2 : 5,
    showMaxLabel: !hideMax, formatter: v => String(v)
  },
  splitLine: { show: true, lineStyle: { color: '#e4e4e4', width: 1 } },
  minorTick: { show: false, splitNumber: 2 },
  minorSplitLine: { show: true, lineStyle: { color: '#f3f3f3', width: 0.8 } }
});

const chart = echarts.init(document.getElementById('chart'), null, { renderer: 'canvas' });

const graphics = [
  { type: 'text', x: 192, y: 7, style: { text: 'Between-Person Associations', font: 'bold 12px ' + FONT, fill: '#000', align: 'center', verticalAlign: 'middle' } },
  { type: 'text', x: 600, y: 7, style: { text: 'Within-Person Associations', font: 'bold 12px ' + FONT, fill: '#000', align: 'center', verticalAlign: 'middle' } },
  { type: 'text', x: 17, y: 302, rotation: Math.PI / 2, style: { text: 'Global Performance Mean Scores', font: 'bold 12px ' + FONT, fill: '#000', align: 'center', verticalAlign: 'middle' } },
  { type: 'text', x: 413, y: 302, rotation: Math.PI / 2, style: { text: 'Deviations from Global Performance Mean Scores', font: 'bold 12px ' + FONT, fill: '#000', align: 'center', verticalAlign: 'middle' } }
];

panels.forEach((p, i) => {
  const [l, t, w, h] = p.box;
  graphics.push({ type: 'rect', shape: { x: l, y: t - 13, width: w, height: 13 }, style: { fill: '#d9d9d9', stroke: '#7f7f7f', lineWidth: 1 } });
  graphics.push({ type: 'text', x: l + w / 2, y: t - 6.5, style: { text: stripTitles[i], font: '9px ' + FONT, fill: '#1a1a1a', align: 'center', verticalAlign: 'middle' } });
  graphics.push({
    type: 'text', x: l, y: t + h, z: 100,
    style: {
      text: betaLabels[i] + '\n' + pLabels[i], font: '9px ' + FONT, fill: '#000',
      align: 'left', verticalAlign: 'bottom', lineHeight: 11,
      backgroundColor: '#fff', borderColor: '#555', borderWidth: 0.8, borderRadius: 3, padding: [2, 3, 1, 2]
    }
  });
});

const option = {
  animation: false,
  backgroundColor: '#fff',
  textStyle: { fontFamily: FONT },
  grid: panels.map(p => ({
    left: p.box[0], top: p.box[1], width: p.box[2], height: p.box[3],
    show: true, backgroundColor: '#fff', borderColor: '#7f7f7f', borderWidth: 1, containLabel: false
  })),
  xAxis: panels.map((p, i) => makeAxis(i, p.x, true, false)),
  yAxis: panels.map((p, i) => makeAxis(i, p.y, false, p.hideMax)),
  series: panels.map((p, i) => ({
    type: 'scatter', xAxisIndex: i, yAxisIndex: i, data: p.pts, symbolSize: 6.5, silent: true,
    itemStyle: { color: p.fill, borderColor: 'rgba(30,30,30,0.75)', borderWidth: 0.6, opacity: 1 }, z: 2
  })).concat(panels.map((p, i) => ({
    type: 'line', xAxisIndex: i, yAxisIndex: i, data: p.fitX.map((x, k) => [x, p.fitY[k]]),
    smooth: p.smooth ? 0.4 : false, symbol: 'none', silent: true,
    lineStyle: { color: '#0000ff', width: 1.8 }, z: 5
  }))),
  graphic: graphics
};

chart.setOption(option);
</script>
</body>
</html>
